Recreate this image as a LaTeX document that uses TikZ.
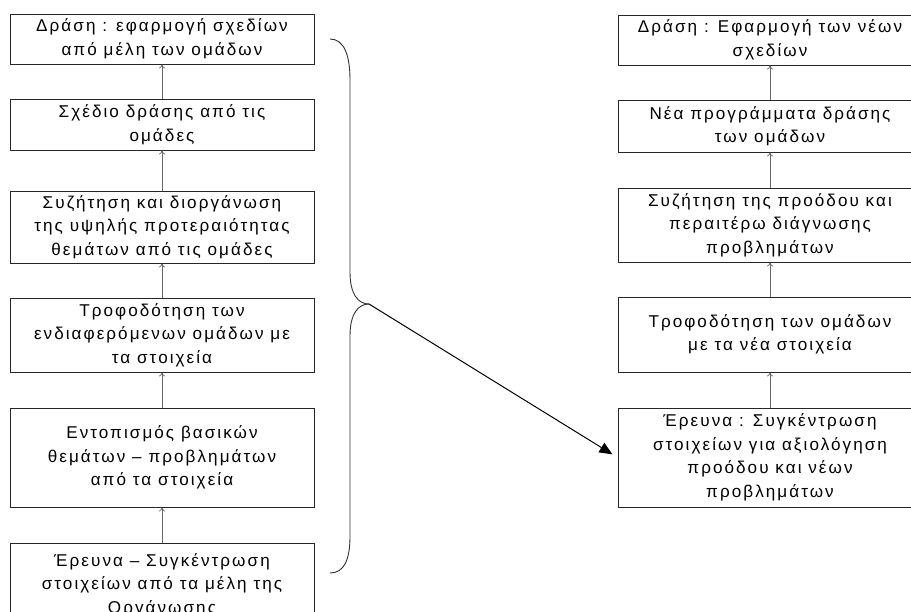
\documentclass[tikz,border=0pt]{standalone}
\usepackage{fontspec}
\setmainfont[LetterSpace=12]{Liberation Sans}
\usetikzlibrary{arrows.meta}
\begin{document}
\begin{tikzpicture}[x=1pt,y=-1pt,
  stagebox/.style={draw=black!85, line width=0.9pt, minimum width=304pt, inner sep=0pt,
    align=center, font=\fontsize{17.1}{23.5}\selectfont, text=black},
  smallarrow/.style={draw=black!60, line width=0.7pt, -{To[length=4pt,width=6pt]}},
  bigarrow/.style={draw=black, line width=1pt, -{Triangle[length=13pt,width=11pt]}},
  bracestyle/.style={draw=black!80, line width=0.9pt}]
\path[use as bounding box, clip] (0,0) rectangle (911,611);
\fill[white] (0,0) rectangle (911,611);
% left column
\node[stagebox, minimum height=50pt] (L1) at (162,39) {Δράση : εφαρμογή σχεδίων\\από μέλη των ομάδων};
\node[stagebox, minimum height=51pt] (L2) at (162,124.5) {Σχέδιο δράσης από τις\\ομάδες};
\node[stagebox, minimum height=72pt] (L3) at (162,227) {Συζήτηση και διοργάνωση\\της υψηλής προτεραιότητας\\θεμάτων από τις ομάδες};
\node[stagebox, minimum height=74pt] (L4) at (162,335) {Τροφοδότηση των\\ενδιαφερόμενων ομάδων με\\τα στοιχεία};
\node[stagebox, minimum height=99pt] (L5) at (162,457.5) {Εντοπισμός βασικών\\θεμάτων – προβλημάτων\\από τα στοιχεία};
\node[stagebox, minimum height=84pt] (L6) at (162,585) {Έρευνα – Συγκέντρωση\\στοιχείων από τα μέλη της\\Οργάνωσης};
% right column
\node[stagebox, minimum height=50pt] (R1) at (770,40) {Δράση : Εφαρμογή των νέων\\σχεδίων};
\node[stagebox, minimum height=52pt] (R2) at (770,126) {Νέα προγράμματα δράσης\\των ομάδων};
\node[stagebox, minimum height=74pt] (R3) at (770,225) {Συζήτηση της προόδου και\\περαιτέρω διάγνωσης\\προβλημάτων};
\node[stagebox, minimum height=75pt] (R4) at (770,334.5) {Τροφοδότηση των ομάδων\\με τα νέα στοιχεία};
\node[stagebox, minimum height=99pt] (R5) at (770,457.5) {Έρευνα : Συγκέντρωση\\στοιχείων για αξιολόγηση\\προόδου και νέων\\προβλημάτων};
% small arrows
\draw[smallarrow] (L2.north) -- (L1.south);
\draw[smallarrow] (L3.north) -- (L2.south);
\draw[smallarrow] (L4.north) -- (L3.south);
\draw[smallarrow] (L5.north) -- (L4.south);
\draw[smallarrow] (L6.north) -- (L5.south);
\draw[smallarrow] (R2.north) -- (R1.south);
\draw[smallarrow] (R3.north) -- (R2.south);
\draw[smallarrow] (R4.north) -- (R3.south);
\draw[smallarrow] (R5.north) -- (R4.south);
% brace
\coordinate (tip) at (369,304);
\draw[bracestyle] (330,39) .. controls (344,39) and (350,55) .. (350,80) -- (350,272)
  .. controls (350,294) and (358,304) .. (tip);
\draw[bracestyle] (tip) .. controls (358,304) and (350,314) .. (350,336) -- (350,536)
  .. controls (350,560) and (344,573) .. (330,573);
% main arrow
\draw[bigarrow, shorten >=6pt] (tip) -- (R5.west);
\end{tikzpicture}
\end{document}
